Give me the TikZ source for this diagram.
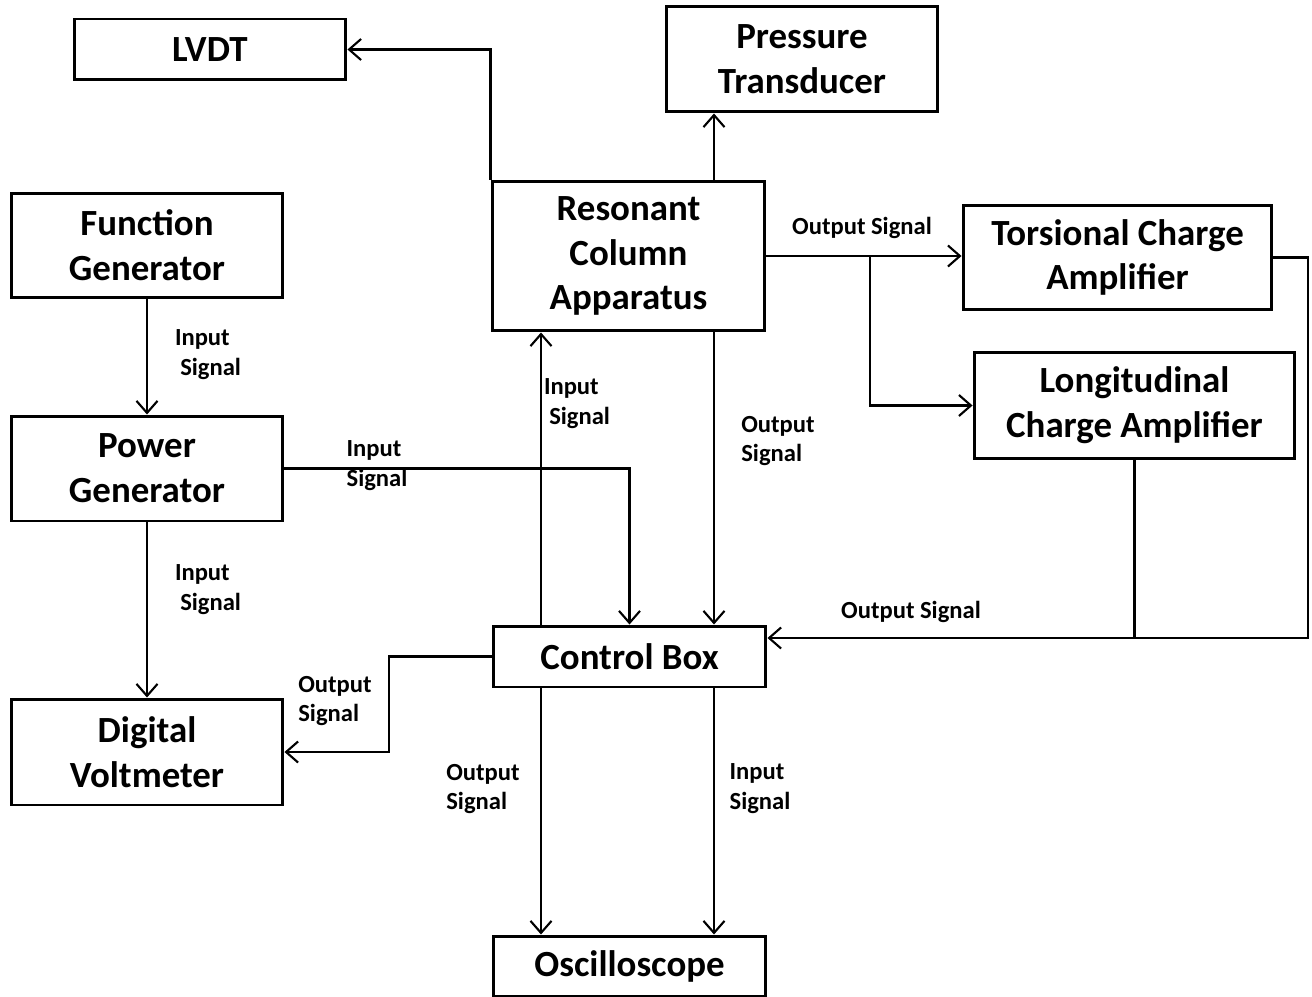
\documentclass[tikz,border=0pt]{standalone}
\usepackage{fontspec}
\setmainfont{Carlito}
\usepackage{tikz}
\usetikzlibrary{arrows.meta,positioning}
\tikzset{
    unit/.style={draw, line width=1.7pt, fill=white, align=center, inner sep=0pt,
        font=\fontsize{21}{25.5}\selectfont\bfseries},
    sig/.style={align=left, inner sep=0pt, font=\fontsize{14}{17}\selectfont\bfseries},
    arr/.style={line width=1.2pt, -{Straight Barb[length=2.4mm,width=4.2mm,line width=1.2pt]}},
    wire/.style={line width=1.2pt}
}

\begin{document}
\begin{tikzpicture}[x=0.02cm, y=-0.02cm]
        \useasboundingbox (0,0) rectangle (1312,997);

        % Define the blocks
        \node[unit, minimum width=5.44cm, minimum height=1.22cm] (lvdt) at (210,49.5) {LVDT};
        \node[unit, minimum width=5.44cm, minimum height=2.12cm] (press) at (802,59) {Pressure\\Transducer};
        \node[unit, minimum width=5.44cm, minimum height=2.10cm] (funcgen) at (147,245.5) {Function\\Generator};
        \node[unit, minimum width=5.46cm, minimum height=3.00cm] (rca) at (628.5,256) {Resonant\\Column\\Apparatus};
        \node[unit, minimum width=6.18cm, minimum height=2.10cm] (torsion) at (1117.5,257.5) {Torsional Charge\\Amplifier};
        \node[unit, minimum width=6.42cm, minimum height=2.14cm] (longit) at (1134.5,405.5) {Longitudinal\\Charge Amplifier};
        \node[unit, minimum width=5.44cm, minimum height=2.10cm] (powergen) at (147,468.5) {Power\\Generator};
        \node[unit, minimum width=5.46cm, minimum height=1.22cm] (ctrl) at (629.5,656.5) {Control Box};
        \node[unit, minimum width=5.44cm, minimum height=2.12cm] (dvm) at (147,752) {Digital\\Voltmeter};
        \node[unit, minimum width=5.46cm, minimum height=1.20cm] (osc) at (629.5,966) {Oscilloscope};

        % Guide lines for the wires
        \coordinate (xl) at (541,0);
        \coordinate (xr) at (714,0);
        \coordinate (xb) at (870,0);
        \coordinate (xe) at (1308,0);
        \coordinate (xv) at (389,0);
        \coordinate (yr) at (0,638);

        % Connections
        \draw[arr] (rca.north west) |- (lvdt.east);
        \draw[arr] (rca.north -| xr) -- (press.south -| xr);
        \draw[arr] (rca.east) -- (rca.east -| torsion.west);
        \draw[arr] (rca.east -| xb) |- (longit.west);
        \draw[arr] (torsion.east) -| (xe |- yr) -- (ctrl.east |- yr);
        \draw[wire] (longit.south) -- (longit.south |- yr);
        \draw[arr] (funcgen.south) -- (powergen.north);
        \draw[arr] (powergen.south) -- (dvm.north);
        \draw[arr] (powergen.east) -| (ctrl.north);
        \draw[arr] (ctrl.north -| xl) -- (rca.south -| xl);
        \draw[arr] (rca.south -| xr) -- (ctrl.north -| xr);
        \draw[arr] (ctrl.west) -- (ctrl.west -| xv) |- (dvm.east);
        \draw[arr] (ctrl.south -| xl) -- (osc.north -| xl);
        \draw[arr] (ctrl.south -| xr) -- (osc.north -| xr);

        % Signal labels
        \node[sig] (s1) at (208,355) {Input\\ \hspace{3pt}Signal};
        \node[sig] (s2) at (208,590) {Input\\ \hspace{3pt}Signal};
        \node[sig] (s3) at (377,466) {Input\\Signal};
        \node[sig] (s4) at (577,404) {Input\\ \hspace{3pt}Signal};
        \node[sig] (s5) at (778,441) {Output\\Signal};
        \node[sig] (s6) at (862,228) {Output Signal};
        \node[sig] (s7) at (911,612) {Output Signal};
        \node[sig] (s8) at (335,701) {Output\\Signal};
        \node[sig] (s9) at (483,789) {Output\\Signal};
        \node[sig] (s10) at (760,789) {Input\\Signal};
    \end{tikzpicture}
\end{document}
